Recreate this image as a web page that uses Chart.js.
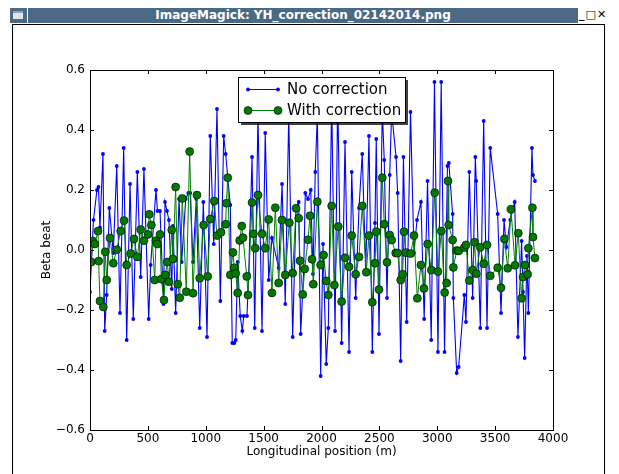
<!DOCTYPE html>
<html>
<head>
<meta charset="utf-8">
<script src="https://cdn.jsdelivr.net/npm/chart.js@4.4.1/dist/chart.umd.min.js"></script>
<style>
  html, body { margin: 0; padding: 0; background: #ffffff; }
  #win { position: relative; width: 619px; height: 474px; overflow: hidden; background: #ffffff;
         font-family: "DejaVu Sans", sans-serif; }
  #icon { position: absolute; left: 10px; top: 8px; width: 17px; height: 15px; background: #4b6983; }
  #icon::after { content: ""; position: absolute; left: 3px; top: 3px; width: 10px; height: 8px;
                 background: #dfe6ee; border-top: 2px solid #8aa3b8; box-sizing: border-box; }
  #titlebar { position: absolute; left: 28px; top: 8px; width: 550px; height: 15px; background: #4b6983;
              color: #ffffff; font-weight: bold; font-size: 12px; line-height: 15px; text-align: center;
              white-space: nowrap; }
  #buttons { position: absolute; left: 579px; top: 7px; width: 40px; height: 16px; color: #000;
             font-weight: bold; font-size: 11px; line-height: 16px; white-space: nowrap; }
  #content { position: absolute; left: 12px; top: 24px; width: 591px; height: 460px;
             border-left: 1px solid #000; border-right: 1px solid #000; border-top: 1px solid #000;
             background: #ffffff; }
  #chart { position: absolute; left: 0; top: 0; }
</style>
</head>
<body>
<div id="win">
  <div id="icon"></div>
  <div id="titlebar">ImageMagick: YH_correction_02142014.png</div>
  <div id="buttons">_&#8202;□&#8202;✕</div>
  <div id="content"></div>
  <canvas id="chart" width="619" height="474"></canvas>
</div>
<script>
// Beta beat along the ring, before correction (positions in m)
const noCorrX = [0, 30, 60, 73, 86, 112, 127, 144, 167, 201, 231, 259, 291, 317, 346, 374, 409, 438, 466, 507,
  524, 570, 583, 605, 635, 648, 665, 682, 706, 717, 740, 769, 792, 827, 849, 866, 890, 918, 948, 979,
  1011, 1039, 1069, 1097, 1126, 1155, 1172, 1212, 1229, 1247, 1259, 1276, 1298, 1316, 1328, 1356, 1371, 1400, 1423, 1451,
  1486, 1514, 1544, 1572, 1630, 1659, 1687, 1717, 1751, 1780, 1803, 1820, 1846, 1860, 1883, 1907, 1926, 1946, 1964, 1993,
  2013, 2041, 2059, 2088, 2117, 2140, 2174, 2203, 2238, 2261, 2295, 2324, 2352, 2382, 2410, 2439, 2462, 2473, 2497, 2525,
  2542, 2566, 2589, 2606, 2644, 2658, 2684, 2708, 2736, 2769, 2799, 2825, 2859, 2887, 2916, 2948, 2976, 3006, 3034, 3063,
  3088, 3100, 3133, 3139, 3168, 3185, 3234, 3248, 3277, 3306, 3329, 3337, 3372, 3401, 3430, 3458, 3522, 3551, 3577, 3597,
  3631, 3669, 3697, 3729, 3741, 3755, 3775, 3787, 3818, 3827, 3844];
const noCorrY = [-0.14, 0.10, 0.20, 0.21, 0.075, 0.32, -0.27, -0.15, 0.14, -0.01, 0.28, -0.21, 0.34, -0.30, 0.22, -0.23, 0.26, -0.09, 0.27, -0.23,
  -0.05, 0.20, 0.13, 0.13, -0.18, 0.16, 0.13, 0.10, -0.13, 0.08, -0.21, 0.17, -0.04, 0.17, 0.19, 0.19, -0.04, 0.17, -0.26, 0.16,
  -0.29, 0.38, 0.02, 0.47, -0.17, 0.38, 0.32, 0.15, -0.31, -0.31, -0.30, -0.04, -0.22, -0.27, -0.22, -0.22, -0.08, 0.31, -0.26, 0.45,
  -0.27, 0.39, -0.10, 0.04, -0.06, 0.22, -0.18, 0.45, -0.29, 0.14, 0.16, -0.28, -0.07, 0.19, 0.17, 0.20, -0.08, 0.26, 0.45, -0.42,
  0.02, -0.38, -0.26, 0.50, -0.27, 0.52, -0.31, 0.36, -0.34, 0.26, -0.16, 0.14, 0.32, -0.07, 0.38, -0.34, 0.09, 0.37, -0.28, 0.47,
  0.30, -0.16, 0.25, 0.46, 0.31, 0.19, -0.37, 0.31, -0.24, 0.46, -0.01, 0.10, 0.16, -0.23, 0.23, -0.30, 0.56, -0.34, 0.56, -0.34,
  0.28, 0.29, 0.12, -0.16, -0.41, -0.39, -0.15, -0.24, 0.26, -0.16, 0.31, 0.23, -0.26, 0.43, -0.26, 0.34, 0.12, -0.21, 0.10, 0.01,
  0.10, 0.16, -0.29, 0.03, -0.14, -0.36, -0.02, -0.21, 0.34, 0.25, 0.23];

// Beta beat after correction
const withCorrX = [11, 23, 41, 69, 75, 86, 115, 132, 144, 173, 201, 231, 265, 294, 317, 352, 380, 409, 438, 466,
  501, 512, 530, 559, 570, 581, 605, 616, 639, 651, 668, 682, 706, 717, 740, 758, 775, 797, 832, 861,
  890, 924, 948, 982, 1017, 1039, 1074, 1097, 1132, 1172, 1178, 1190, 1212, 1235, 1247, 1259, 1276, 1293, 1311, 1322,
  1354, 1365, 1400, 1411, 1428, 1451, 1486, 1514, 1544, 1572, 1601, 1630, 1659, 1687, 1722, 1751, 1780, 1803, 1814, 1838,
  1855, 1883, 1901, 1918, 1929, 1964, 1993, 2018, 2041, 2059, 2088, 2111, 2145, 2174, 2203, 2238, 2261, 2295, 2324, 2352,
  2387, 2410, 2439, 2462, 2473, 2497, 2525, 2542, 2566, 2589, 2606, 2641, 2658, 2684, 2701, 2713, 2730, 2771, 2799, 2828,
  2859, 2885, 2917, 2949, 2978, 3006, 3035, 3064, 3081, 3093, 3099, 3133, 3139, 3168, 3185, 3234, 3248, 3277, 3306, 3323,
  3337, 3372, 3401, 3430, 3458, 3522, 3551, 3580, 3609, 3637, 3672, 3700, 3729, 3741, 3758, 3781, 3787, 3822, 3827, 3844];
const withCorrY = [-0.04, 0.03, 0.02, 0.063, -0.037, -0.17, -0.19, -0.006, -0.10, 0.04, -0.044, 0.001, 0.063, 0.098, -0.05, -0.012, 0.037, -0.023, 0.068, 0.031,
  0.052, 0.119, 0.083, -0.10, 0.031, 0.02, 0.052, -0.097, -0.167, -0.083, -0.04, -0.106, 0.067, -0.03, 0.21, -0.114, -0.159, 0.172, -0.139, 0.328,
  -0.144, 0.183, -0.094, 0.083, -0.088, 0.103, 0.163, 0.048, 0.059, 0.086, 0.156, 0.241, -0.083, -0.008, -0.059, -0.078, -0.143, 0.032, 0.08, 0.041,
  -0.088, -0.15, 0.158, 0.054, 0.006, 0.183, 0.054, 0.006, 0.102, -0.143, 0.141, -0.11, 0.10, -0.083, 0.091, -0.077, 0.139, 0.106, -0.036, -0.148,
  -0.063, 0.034, 0.114, -0.031, -0.114, 0.161, -0.05, -0.017, -0.103, -0.15, 0.147, -0.117, 0.078, -0.172, -0.026, -0.056, 0.048, -0.081, -0.023, 0.147,
  -0.074, 0.048, -0.174, -0.044, 0.061, -0.132, 0.241, 0.086, -0.041, 0.05, 0.033, -0.01, -0.01, -0.10, -0.081, 0.061, -0.009, -0.012, 0.048, -0.161,
  -0.05, -0.128, 0.02, -0.067, 0.191, -0.072, 0.063, -0.142, -0.11, 0.23, 0.083, 0.033, -0.058, -0.002, -0.003, 0.008, 0.017, -0.102, -0.067, 0.026,
  -0.079, 0.009, -0.046, 0.017, -0.086, -0.059, -0.126, 0.037, -0.061, 0.136, -0.051, 0.056, -0.161, -0.09, -0.05, -0.081, 0.006, 0.141, 0.043, -0.027];

const xTicks = [0, 500, 1000, 1500, 2000, 2500, 3000, 3500, 4000];
const yTicks = [-0.6, -0.4, -0.2, 0.0, 0.2, 0.4, 0.6];
const seriesNames = ['No correction', 'With correction'];

const toPoints = (xs, ys) => xs.map((x, i) => ({ x: x, y: ys[i] }));
const FONT = '"DejaVu Sans", "Liberation Sans", sans-serif';
const fmtY = v => (Math.abs(v) < 1e-9 ? '0.0' : v.toFixed(1).replace('-', '\u2212'));
const fmtX = v => String(Math.round(v));

// Box around the axes with inward tick marks on all four sides
const axesFrame = {
  id: 'axesFrame',
  afterDatasetsDraw(chart) {
    const { ctx, chartArea: a, scales: { x, y } } = chart;
    ctx.save();
    ctx.strokeStyle = '#000';
    ctx.lineWidth = 1;
    ctx.beginPath();
    xTicks.forEach(t => {
      const px = Math.round(x.getPixelForValue(t)) + 0.5;
      ctx.moveTo(px, a.bottom); ctx.lineTo(px, a.bottom - 4);
      ctx.moveTo(px, a.top); ctx.lineTo(px, a.top + 4);
    });
    yTicks.forEach(t => {
      const py = Math.round(y.getPixelForValue(t)) + 0.5;
      ctx.moveTo(a.left, py); ctx.lineTo(a.left + 4, py);
      ctx.moveTo(a.right, py); ctx.lineTo(a.right - 4, py);
    });
    ctx.stroke();
    ctx.strokeRect(Math.round(a.left) + 0.5, Math.round(a.top) + 0.5,
                   Math.round(a.right - a.left), Math.round(a.bottom - a.top));
    ctx.restore();
  }
};

// Framed legend with a drop shadow, upper middle of the axes
const boxLegend = {
  id: 'boxLegend',
  afterDraw(chart) {
    const { ctx } = chart;
    const bx = 238, by = 77, bw = 167, bh = 45;
    ctx.save();
    ctx.fillStyle = 'rgba(0,0,0,0.75)';
    ctx.fillRect(bx + 3, by + 3, bw, bh);
    ctx.fillStyle = '#fff';
    ctx.fillRect(bx, by, bw, bh);
    ctx.strokeStyle = '#000';
    ctx.lineWidth = 1;
    ctx.strokeRect(bx + 0.5, by + 0.5, bw, bh);
    chart.data.datasets.slice().sort((p, q) => p.legendRow - q.legendRow).forEach(ds => {
      const rowY = by + 12 + ds.legendRow * 21;
      ctx.strokeStyle = ds.borderColor;
      ctx.lineWidth = 1;
      ctx.beginPath();
      ctx.moveTo(248, rowY + 0.5); ctx.lineTo(278, rowY + 0.5);
      ctx.stroke();
      [248, 278].forEach(mx => {
        ctx.beginPath();
        ctx.arc(mx, rowY + 0.5, ds.pointRadius, 0, Math.PI * 2);
        ctx.fillStyle = ds.pointBackgroundColor;
        ctx.fill();
        if (ds.pointBorderWidth > 0) {
          ctx.strokeStyle = ds.pointBorderColor;
          ctx.lineWidth = ds.pointBorderWidth;
          ctx.stroke();
        }
      });
      ctx.fillStyle = '#000';
      ctx.font = '15px ' + FONT;
      ctx.textBaseline = 'middle';
      ctx.textAlign = 'left';
      ctx.fillText(ds.label, 287, rowY + 1);
    });
    ctx.restore();
  }
};

new Chart(document.getElementById('chart'), {
  type: 'line',
  data: {
    datasets: [
      {
        label: seriesNames[1], legendRow: 1, order: 0,
        data: toPoints(withCorrX, withCorrY),
        borderColor: '#008000', borderWidth: 1,
        pointRadius: 4, pointBackgroundColor: '#007a00', pointBorderColor: '#000', pointBorderWidth: 0.6,
        tension: 0
      },
      {
        label: seriesNames[0], legendRow: 0, order: 1,
        data: toPoints(noCorrX, noCorrY),
        borderColor: '#0000ff', borderWidth: 1.1,
        pointRadius: 1.9, pointBackgroundColor: '#0000ff', pointBorderColor: '#0000ff', pointBorderWidth: 0,
        tension: 0
      }
    ]
  },
  options: {
    responsive: false,
    animation: false,
    events: [],
    layout: { padding: { left: 0, top: 70, right: 66, bottom: 0 } },
    plugins: { legend: { display: false }, tooltip: { enabled: false } },
    scales: {
      x: {
        type: 'linear', min: 0, max: 4000,
        afterBuildTicks: s => { s.ticks = xTicks.map(v => ({ value: v })); },
        afterFit: s => { s.height = 44; },
        ticks: { color: '#000', font: { family: FONT, size: 12 }, padding: 2, maxRotation: 0, autoSkip: false,
                 callback: fmtX },
        grid: { display: false, drawTicks: false },
        border: { display: false },
        title: { display: true, text: 'Longitudinal position (m)', color: '#000',
                 font: { family: FONT, size: 12 }, padding: { top: 0, bottom: 15 } }
      },
      y: {
        type: 'linear', min: -0.6, max: 0.6,
        afterBuildTicks: s => { s.ticks = yTicks.map(v => ({ value: v })); },
        afterFit: s => { s.width = 90; },
        ticks: { color: '#000', font: { family: FONT, size: 12 }, padding: 5, callback: fmtY },
        grid: { display: false, drawTicks: false },
        border: { display: false },
        title: { display: true, text: 'Beta beat', color: '#000',
                 font: { family: FONT, size: 12 }, padding: { top: 40, bottom: 0 } }
      }
    }
  },
  plugins: [axesFrame, boxLegend]
});
</script>
</body>
</html>
